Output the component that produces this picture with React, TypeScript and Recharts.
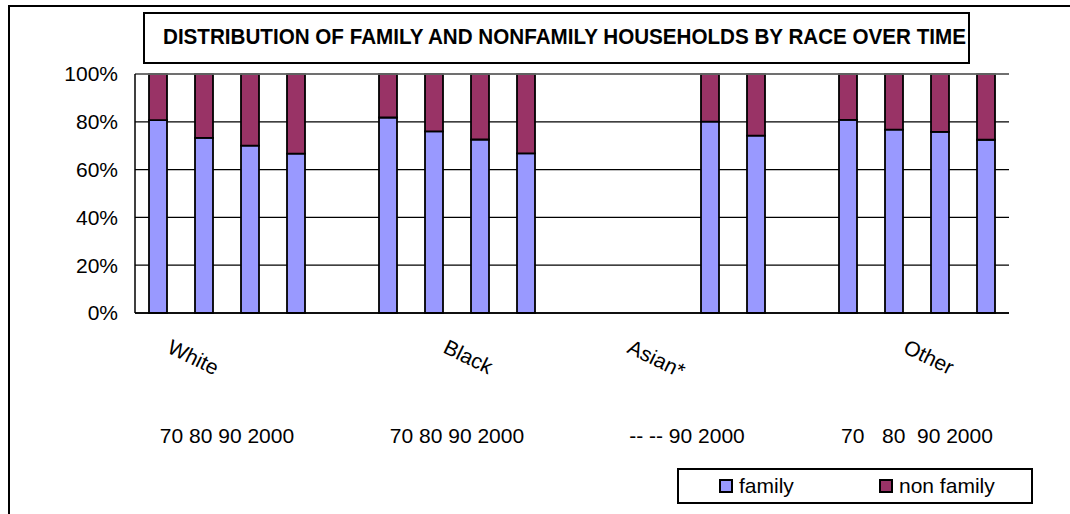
import React from 'react';
import { BarChart, Bar, XAxis, YAxis, CartesianGrid, Legend, ReferenceLine } from 'recharts';

const slots = ['W70', 'W80', 'W90', 'W00', 'gap1', 'B70', 'B80', 'B90', 'B00', 'gap2', 'A70', 'A80', 'A90', 'A00', 'gap3', 'O70', 'O80', 'O90', 'O00'];
const family = [80.7, 73.3, 70.0, 66.7, null, 81.8, 76.0, 72.6, 66.8, null, null, null, 80.1, 74.2, null, 80.8, 76.7, 75.8, 72.5];
const nonFamily = [19.3, 26.7, 30.0, 33.3, null, 18.2, 24.0, 27.4, 33.2, null, null, null, 19.9, 25.8, null, 19.2, 23.3, 24.2, 27.5];
const raceLabels = ['White', '', '', '', '', '', 'Black', '', '', '', 'Asian*', '', '', '', '', '', 'Other', '', ''];
const yearLabels = ['', '70 80 90 2000', '', '', '', '', '70 80 90 2000', '', '', '', '', '-- -- 90 2000', '', '', '', '', '70   80  90 2000', '', ''];
const yTicks = [0, 20, 40, 60, 80, 100];
const title = 'DISTRIBUTION OF FAMILY AND NONFAMILY HOUSEHOLDS BY RACE OVER TIME';

const FONT = "Arial, 'Liberation Sans', sans-serif";
const FAMILY_COLOR = '#9999FF';
const NONFAMILY_COLOR = '#993366';

const data = slots.map((slot, i) => ({ slot, family: family[i], nonFamily: nonFamily[i] }));

const SlotTick = (props: any) => {
  const { x, y, payload } = props;
  const i = slots.indexOf(payload.value);
  const race = raceLabels[i];
  const years = yearLabels[i];
  return (
    <g>
      {race && (
        <text
          transform={`translate(${x + 8},${y + 39}) rotate(26)`}
          fontFamily={FONT}
          fontSize={21}
          fill="#000"
        >
          {race}
        </text>
      )}
      {years && (
        <text
          x={x + 23}
          y={y + 130}
          textAnchor="middle"
          fontFamily={FONT}
          fontSize={21}
          fill="#000"
          style={{ whiteSpace: 'pre' }}
        >
          {years}
        </text>
      )}
    </g>
  );
};

const LegendBox = (props: any) => {
  const items = [
    { name: 'family', color: FAMILY_COLOR },
    { name: 'non family', color: NONFAMILY_COLOR },
  ];
  return (
    <div
      style={{
        width: 356,
        height: 36,
        boxSizing: 'border-box',
        border: '2px solid #000',
        position: 'relative',
        background: '#fff',
        fontFamily: FONT,
        fontSize: 21,
      }}
    >
      {items.map((it, k) => (
        <div key={it.name} style={{ position: 'absolute', left: 40 + k * 160, top: 0, height: 32, display: 'flex', alignItems: 'center' }}>
          <span style={{ display: 'inline-block', width: 14, height: 14, boxSizing: 'border-box', border: '2px solid #000', background: it.color, marginRight: 6 }} />
          <span>{it.name}</span>
        </div>
      ))}
    </div>
  );
};

export default function App() {
  return (
    <div style={{ position: 'absolute', left: 0, top: 0, width: 1070, height: 514, background: '#fff' }}>
      <BarChart
        width={1070}
        height={514}
        data={data}
        margin={{ top: 74, right: 61, bottom: 0, left: 0 }}
        barSize={18}
      >
        <CartesianGrid vertical={false} stroke="#000" strokeWidth={1.3} />
        <XAxis
          dataKey="slot"
          height={201}
          interval={0}
          tickLine={false}
          tickSize={0}
          tickMargin={0}
          axisLine={{ stroke: '#000', strokeWidth: 1.5 }}
          tick={<SlotTick />}
        />
        <YAxis
          width={135}
          domain={[0, 100]}
          ticks={yTicks}
          tickFormatter={(v: number) => `${v}%`}
          tickLine={false}
          tickSize={0}
          tickMargin={17}
          axisLine={{ stroke: '#000', strokeWidth: 1.5 }}
          tick={{ fill: '#000', fontSize: 21, fontFamily: FONT }}
        />
        <YAxis
          yAxisId="right"
          orientation="right"
          width={0}
          tick={false}
          tickLine={false}
          axisLine={{ stroke: '#808080', strokeWidth: 1.5 }}
        />
        <ReferenceLine y={100} stroke="#808080" strokeWidth={1.5} />
        <Bar dataKey="family" name="family" stackId="a" fill={FAMILY_COLOR} stroke="#000" strokeWidth={1.8} isAnimationActive={false} />
        <Bar dataKey="nonFamily" name="non family" stackId="a" fill={NONFAMILY_COLOR} stroke="#000" strokeWidth={1.8} isAnimationActive={false} />
        <Legend
          layout="horizontal"
          verticalAlign="middle"
          align="center"
          content={<LegendBox />}
          wrapperStyle={{ position: 'absolute', left: 677, top: 468, width: 356, height: 36 }}
        />
      </BarChart>
      <svg
        width={1070}
        height={514}
        style={{ position: 'absolute', left: 0, top: 0, pointerEvents: 'none' }}
      >
        <path d="M9,514 L9,6 L1070,6" fill="none" stroke="#000" strokeWidth={2} />
        <rect x={144} y={13} width={825} height={50} fill="none" stroke="#000" strokeWidth={2} />
        <text
          x={163}
          y={44}
          fontFamily={FONT}
          fontWeight="bold"
          fontSize={22}
          textLength={803}
          lengthAdjust="spacingAndGlyphs"
          fill="#000"
        >
          {title}
        </text>
      </svg>
    </div>
  );
}
